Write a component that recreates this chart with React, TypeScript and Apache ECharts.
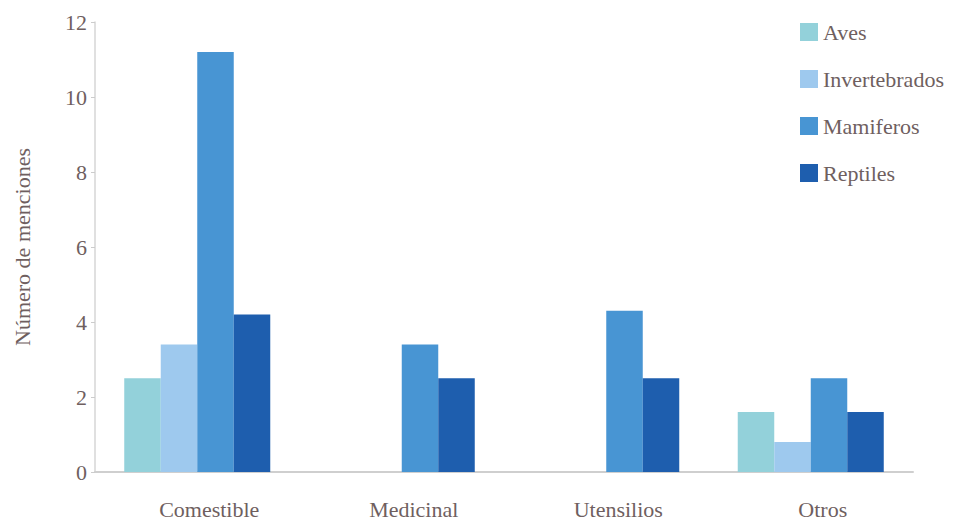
import React, { useEffect, useRef } from "react";
import * as echarts from "echarts";

const categories = ["Comestible", "Medicinal", "Utensilios", "Otros"];
const seriesNames = ["Aves", "Invertebrados", "Mamiferos", "Reptiles"];
const aves = [2.5, null, null, 1.6];
const invertebrados = [3.4, null, null, 0.8];
const mamiferos = [11.2, 3.4, 4.3, 2.5];
const reptiles = [4.2, 2.5, 2.5, 1.6];
const yTicks = { min: 0, max: 12, interval: 2 };

const colors = ["#93d1da", "#9ec9ee", "#4895d3", "#1e5eae"];
const FONT = "'Liberation Serif', 'Times New Roman', serif";
const TXT = "#6f5f5f";

export default function App() {
  const ref = useRef<HTMLDivElement>(null);
  useEffect(() => {
    if (!ref.current) return;
    const chart = echarts.init(ref.current, null, { renderer: "svg" });
    const data = [aves, invertebrados, mamiferos, reptiles];
    chart.setOption({
      animation: false,
      textStyle: { fontFamily: FONT },
      grid: { left: 95, right: 62, top: 22, bottom: 55 },
      legend: {
        orient: "vertical",
        left: 795,
        top: 16,
        itemWidth: 18,
        itemHeight: 18,
        itemGap: 25,
        icon: "rect",
        textStyle: { fontFamily: FONT, fontSize: 22, color: TXT },
        data: seriesNames,
      },
      xAxis: {
        type: "category",
        data: categories,
        axisLine: { lineStyle: { color: "#cfcfcf", width: 2 } },
        axisTick: { show: false },
        axisLabel: {
          fontFamily: FONT,
          fontSize: 22,
          color: TXT,
          margin: 26,
          padding: [0, 0, 0, 24],
        },
      },
      yAxis: {
        type: "value",
        min: yTicks.min,
        max: yTicks.max,
        interval: yTicks.interval,
        name: "Número de menciones",
        nameLocation: "middle",
        nameGap: 62,
        nameTextStyle: { fontFamily: FONT, fontSize: 22, color: TXT },
        axisLine: { show: true, lineStyle: { color: "#d6d6d6", width: 1.5 } },
        axisTick: { show: true, length: 4, lineStyle: { color: "#cccccc" } },
        splitLine: { show: false },
        axisLabel: { fontFamily: FONT, fontSize: 22, color: TXT, margin: 8 },
      },
      series: seriesNames.map((n, i) => ({
        name: n,
        type: "bar",
        data: data[i],
        barGap: "0%",
        barCategoryGap: "28.6%",
        itemStyle: { color: colors[i] },
      })),
    });
    return () => chart.dispose();
  }, []);
  return <div ref={ref} style={{ width: 975, height: 527, position: "absolute", left: 0, top: 0 }} />;
}
